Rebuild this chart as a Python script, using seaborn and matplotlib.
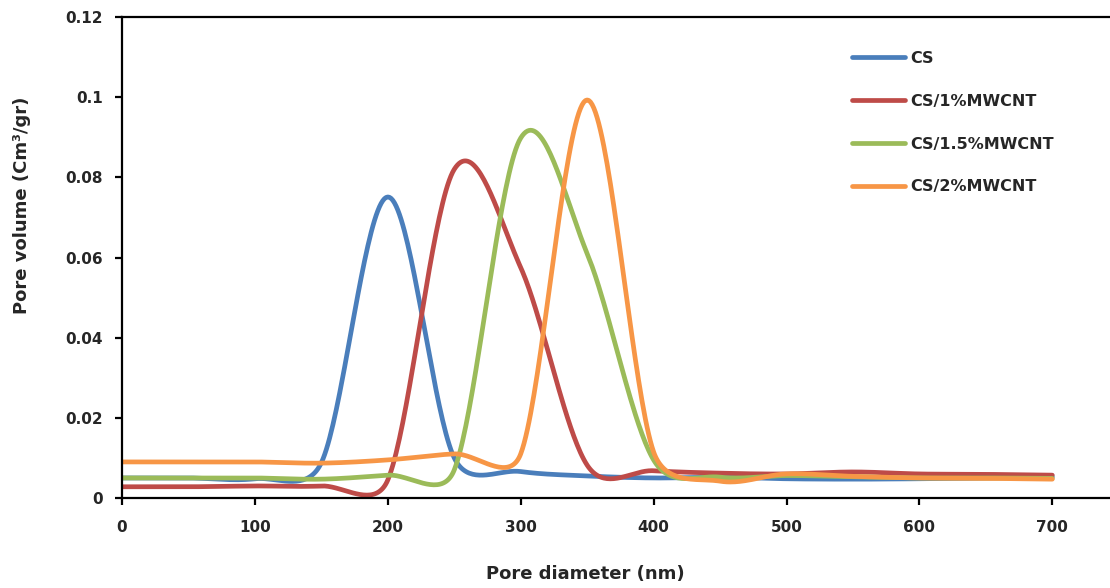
import numpy as np
import pandas as pd
import matplotlib
matplotlib.use("Agg")
import matplotlib.pyplot as plt
import seaborn as sns

# ---- data (values every 50 nm) ----
series_names = ["CS", "CS/1%MWCNT", "CS/1.5%MWCNT", "CS/2%MWCNT"]
colors = ["#4A7EBB", "#BE4B48", "#9BBB59", "#F79646"]

pore_diameter = [0, 50, 100, 150, 200, 250, 300, 350, 400, 450, 500, 550, 600, 650, 700]
cs = [0.0050, 0.0050, 0.0048, 0.0088, 0.0751, 0.0100, 0.0066, 0.0055, 0.0050, 0.0052, 0.0048, 0.0047, 0.0048, 0.0050, 0.0053]
cs_1 = [0.0028, 0.0028, 0.0030, 0.0030, 0.0045, 0.0820, 0.0575, 0.0082, 0.0068, 0.0062, 0.0060, 0.0065, 0.0060, 0.0059, 0.0057]
cs_15 = [0.0050, 0.0050, 0.0050, 0.0047, 0.0057, 0.0070, 0.0898, 0.0610, 0.0095, 0.0052, 0.0056, 0.0053, 0.0050, 0.0050, 0.0049]
cs_2 = [0.0090, 0.0090, 0.0090, 0.0087, 0.0095, 0.0110, 0.0110, 0.0993, 0.0115, 0.0042, 0.0060, 0.0054, 0.0050, 0.0049, 0.0047]

x_ticks = [0, 100, 200, 300, 400, 500, 600, 700]
y_ticks = [0, 0.02, 0.04, 0.06, 0.08, 0.1, 0.12]
y_tick_labels = ["0", "0.02", "0.04", "0.06", "0.08", "0.1", "0.12"]

# screen scale (pixels per data unit) used for the spreadsheet-style smoothing
PX_X = 1.329
PX_Y = 4010.0


def spreadsheet_smooth(xs, ys, n=40):
    """Smoothed line like a spreadsheet 'smoothed line': cubic Bezier segments whose
    control points follow (P[i+1]-P[i-1])/6, limited to half of the adjacent segment."""
    P = np.column_stack([np.asarray(xs, float) * PX_X, np.asarray(ys, float) * PX_Y])
    m = len(P)
    T = np.zeros_like(P)
    for i in range(m):
        a = P[i - 1] if i > 0 else P[i]
        b = P[i + 1] if i < m - 1 else P[i]
        T[i] = (b - a) / 6.0
    pts = []
    for i in range(m - 1):
        p0, p3 = P[i], P[i + 1]
        d = np.hypot(*(p3 - p0))
        t0 = np.hypot(*T[i])
        t1 = np.hypot(*T[i + 1])
        s0 = min(1.0, 0.5 * d / t0) if t0 > 0 else 0.0
        s1 = min(1.0, 0.5 * d / t1) if t1 > 0 else 0.0
        c1 = p0 + T[i] * s0
        c2 = p3 - T[i + 1] * s1
        t = np.linspace(0, 1, n, endpoint=(i == m - 2))[:, None]
        pts.append(((1 - t) ** 3) * p0 + 3 * ((1 - t) ** 2) * t * c1
                   + 3 * (1 - t) * t ** 2 * c2 + t ** 3 * p3)
    pts = np.vstack(pts)
    return pts[:, 0] / PX_X, pts[:, 1] / PX_Y


frames = []
for name, ys in zip(series_names, [cs, cs_1, cs_15, cs_2]):
    sx, sy = spreadsheet_smooth(pore_diameter, ys)
    frames.append(pd.DataFrame({"x": sx, "y": sy, "series": name}))
df = pd.concat(frames, ignore_index=True)

sns.set_theme(style="white")
plt.rcParams["font.family"] = ["DejaVu Sans"]

W, H = 1110, 588
fig = plt.figure(figsize=(W / 100, H / 100), dpi=100)
ax = fig.add_axes([122 / W, 1 - 498 / H, (1110 - 122) / W, (498 - 17) / H])

sns.lineplot(data=df, x="x", y="y", hue="series", hue_order=series_names,
             palette=colors, sort=False, estimator=None, units="series",
             linewidth=3.4, ax=ax, legend=True, solid_capstyle="round")

ax.set_xlim(0, (1110 - 122) / PX_X)
ax.set_ylim(0, 0.12)
ax.set_xticks(x_ticks)
ax.set_xticklabels([str(v) for v in x_ticks], fontweight="bold", fontsize=11)
ax.set_yticks(y_ticks)
ax.set_yticklabels(y_tick_labels, fontweight="bold", fontsize=11)

for side in ["left", "bottom", "top"]:
    ax.spines[side].set_visible(True)
    ax.spines[side].set_color("black")
    ax.spines[side].set_linewidth(1.6)
ax.spines["right"].set_visible(False)
ax.tick_params(axis="both", direction="out", length=5, width=1.6, color="black",
               bottom=True, left=True)
ax.tick_params(axis="x", pad=11)
ax.tick_params(axis="y", pad=9)
ax.grid(False)

ax.set_xlabel("Pore diameter (nm)", fontweight="bold", fontsize=13)
ax.set_ylabel("Pore volume (Cm³/gr)", fontweight="bold", fontsize=13)
ax.xaxis.set_label_coords((585 - 122) / 988, -(565 - 498) / 481)
ax.yaxis.set_label_coords((31 - 122) / 988, (498 - 205) / 481)

leg = ax.legend(loc="upper left", bbox_to_anchor=(852 / W, 1 - 51 / H),
                bbox_transform=fig.transFigure, frameon=False,
                handlelength=3.3, handletextpad=0.33, labelspacing=1.74,
                prop={"weight": "bold", "size": 11.5}, borderpad=0, borderaxespad=0)
for line in leg.get_lines():
    line.set_linewidth(3.4)
    line.set_solid_capstyle("round")

fig.savefig("out.png", dpi=100)
